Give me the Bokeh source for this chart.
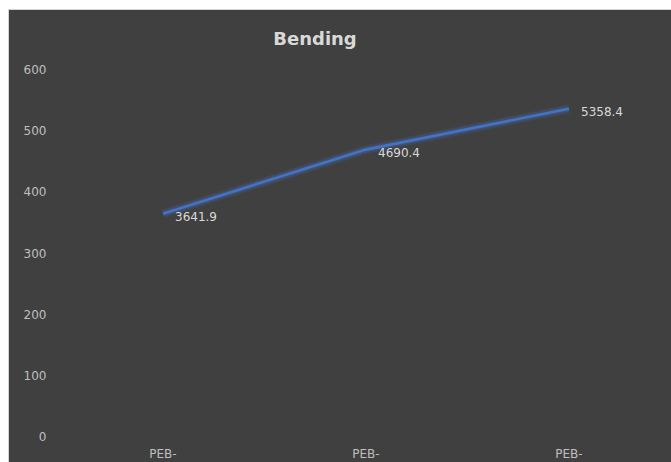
from bokeh.plotting import figure
from bokeh.models import Div, ColumnDataSource, FixedTicker, Range1d
from bokeh.layouts import column
from bokeh.core.properties import value
from bokeh.embed import file_html
from bokeh.resources import INLINE

# Bending results
categories = ["PEB-1", "PEB-2", "PEB-3"]
category_labels = ["PEB-", "PEB-", "PEB-"]
bending = [3641.9, 4690.4, 5358.4]
bending_text = ["3641.9", "4690.4", "5358.4"]
y_ticks = [0, 1000, 2000, 3000, 4000, 5000, 6000]
y_tick_labels = ["0", "100", "200", "300", "400", "500", "600"]

BG = "#404040"
LINE = "#4472C4"
TXT = "#bfbfbf"
FONT = "DejaVu Sans"

# one slot per category, points sit at the slot centres
slots = [i + 0.5 for i in range(len(categories))]
src = ColumnDataSource(dict(x=slots, y=bending, t=bending_text))

title = Div(
    text="Bending", width=612, height=51, margin=0,
    styles={"font-family": FONT, "font-size": "18px", "font-weight": "bold",
            "color": "#d9d9d9", "text-align": "center", "line-height": "58px",
            "background-color": BG},
)

p = figure(
    width=663, height=402, margin=0,
    x_range=Range1d(0, len(categories)), y_range=Range1d(0, y_ticks[-1]),
    output_backend="svg", toolbar_location=None,
    background_fill_alpha=0, border_fill_alpha=0,
    outline_line_color=None,
    min_border_left=52, min_border_right=2,
    min_border_top=8, min_border_bottom=27,
    styles={"background-color": BG},
)

p.xgrid.visible = False
p.ygrid.visible = False

for ax in (p.xaxis, p.yaxis):
    ax.axis_line_color = None
    ax.major_tick_line_color = None
    ax.minor_tick_line_color = None
    ax.major_tick_out = 0
    ax.major_label_text_color = TXT
    ax.major_label_text_font = FONT
    ax.major_label_text_font_size = "12px"

p.yaxis.ticker = FixedTicker(ticks=y_ticks)
p.yaxis.major_label_overrides = {t: s for t, s in zip(y_ticks, y_tick_labels)}
p.yaxis.major_label_standoff = 15
p.xaxis.ticker = FixedTicker(ticks=slots)
p.xaxis.major_label_overrides = {t: s for t, s in zip(slots, category_labels)}
p.xaxis.major_label_standoff = 10

# soft glow beneath the series line
p.line("x", "y", source=src, line_color=LINE, line_width=9, line_alpha=0.15)
p.line("x", "y", source=src, line_color=LINE, line_width=6, line_alpha=0.22)
p.line("x", "y", source=src, line_color=LINE, line_width=2.6)

p.text("x", "y", text="t", source=src, x_offset=12, y_offset=3,
       text_align="left", text_baseline="middle",
       text_color="#d9d9d9", text_font=value(FONT), text_font_size="12px")

layout = column(
    title, p, spacing=0, margin=(9, 0, 0, 8),
    styles={"background-color": BG,
            "border-top": "1px solid #d4d4d4", "border-left": "1px solid #d4d4d4"},
)

open("out.html", "w").write(file_html(layout, INLINE))
